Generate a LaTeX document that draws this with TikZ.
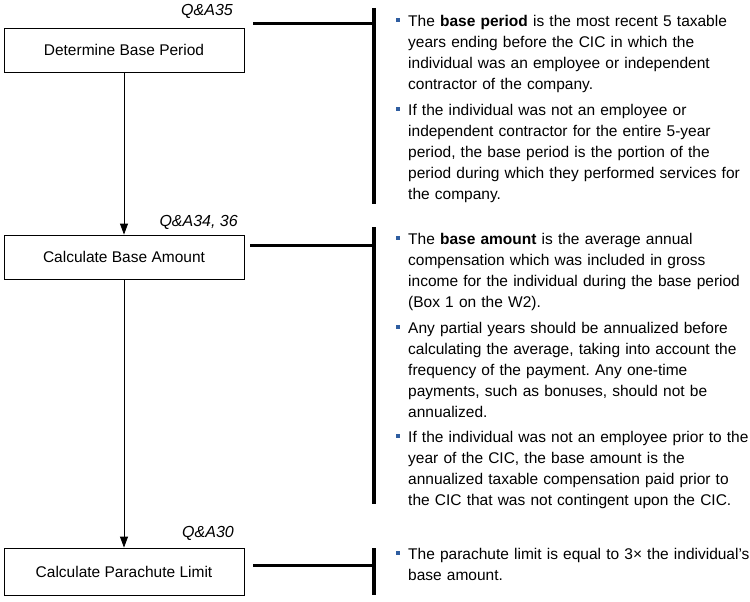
\documentclass[tikz,border=0pt]{standalone}
\usepackage{fontspec}
\setmainfont{Liberation Sans}
\usetikzlibrary{arrows.meta}
\definecolor{BULBLUE}{HTML}{2F5DA0}
\newcommand{\bsq}{\llap{\textcolor{BULBLUE}{\rule[4.5pt]{3.5pt}{3.5pt}}\hspace{8.5pt}}}
\frenchspacing

\begin{document}
\begin{tikzpicture}[x=1pt, y=-1pt,
  procbox/.style={draw=black, line width=0.8pt, rectangle, minimum width=240pt,
    minimum height=44pt, inner sep=0pt, font=\fontsize{15.5}{19}\selectfont},
  qlabel/.style={anchor=base east, inner sep=0pt, font=\fontsize{16}{19}\selectfont\itshape},
  bultext/.style={anchor=north west, inner sep=0pt, text width=345pt, align=left,
    font=\fontsize{15.5}{21}\selectfont},
  flow/.style={-{Triangle[width=8pt,length=11pt]}, line width=0.8pt},
  link/.style={line width=3pt},
  bracket/.style={line width=3.5pt}
]
\useasboundingbox (0,0) rectangle (750,602);

% steps
\node[procbox] (base)   at (124,50)    {Determine Base Period};
\node[procbox] (amount) at (124,257)   {Calculate Base Amount};
\node[procbox, minimum height=47pt] (limit) at (124,571.5) {Calculate Parachute Limit};

\draw[flow] (base) -- (amount);
\draw[flow] (amount) -- (limit);

% references
\node[qlabel] (q35)   at (233,16)  {Q\&A35};
\node[qlabel] (q3436) at (238,226) {Q\&A34, 36};
\node[qlabel] (q30)   at (234,537) {Q\&A30};

% brackets
\coordinate (tail1) at (253,24);  \coordinate (hook1) at (374,24);
\coordinate (top1)  at (374,8);   \coordinate (bot1)  at (374,204);
\coordinate (tail2) at (250,245); \coordinate (hook2) at (374,245);
\coordinate (top2)  at (374,227); \coordinate (bot2)  at (374,504);
\coordinate (tail3) at (253,565); \coordinate (hook3) at (374,565);
\coordinate (top3)  at (374,548); \coordinate (bot3)  at (374,595);

\draw[link] (tail1) -- (hook1);
\draw[bracket] (top1) -- (bot1);
\draw[link] (tail2) -- (hook2);
\draw[bracket] (top2) -- (bot2);
\draw[link] (tail3) -- (hook3);
\draw[bracket] (top3) -- (bot3);

% notes
\node[bultext] (pd1) at (408,14.6) {\bsq The \textbf{base period} is the most recent 5 taxable\\
  years ending before the CIC in which the\\
  individual was an employee or independent\\
  contractor of the company.};
\node[bultext] (pd2) at (408,103.6) {\bsq If the individual was not an employee or\\
  independent contractor for the entire 5-year\\
  period, the base period is the portion of the\\
  period during which they performed services for\\
  the company.};

\node[bultext] (am1) at (408,232.6) {\bsq The \textbf{base amount} is the average annual\\
  compensation which was included in gross\\
  income for the individual during the base period\\
  (Box 1 on the W2).};
\node[bultext] (am2) at (408,321.6) {\bsq Any partial years should be annualized before\\
  calculating the average, taking into account the\\
  frequency of the payment. Any one-time\\
  payments, such as bonuses, should not be\\
  annualized.};
\node[bultext] (am3) at (408,430.6) {\bsq If the individual was not an employee prior to the\\
  year of the CIC, the base amount is the\\
  annualized taxable compensation paid prior to\\
  the CIC that was not contingent upon the CIC.};

\node[bultext] (lm1) at (408,547.6) {\bsq The parachute limit is equal to 3× the individual’s\\
  base amount.};
\end{tikzpicture}
\end{document}
